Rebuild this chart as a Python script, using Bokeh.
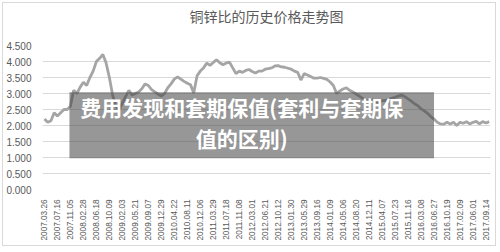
import math
from bokeh.plotting import figure
from bokeh.models import (FixedTicker, NumeralTickFormatter, BoxAnnotation, Label,
                          ColumnDataSource, Range1d)
from bokeh.embed import file_html
from bokeh.resources import INLINE

# ---- data ----
tick_labels = [
    "2007.03.26", "2007.07.16", "2007.11.05", "2008.02.28", "2008.06.18", "2008.10.09",
    "2009.02.03", "2009.05.21", "2009.09.07", "2009.12.29", "2010.04.22", "2010.08.11",
    "2010.12.06", "2011.03.29", "2011.07.18", "2011.11.08", "2012.03.01", "2012.06.21",
    "2012.10.12", "2013.01.30", "2013.05.29", "2013.09.16", "2014.01.09", "2014.05.06",
    "2014.08.20", "2014.12.11", "2015.04.07", "2015.07.23", "2015.11.16", "2016.03.08",
    "2016.06.27", "2016.10.19", "2017.02.09", "2017.06.01", "2017.09.14",
]
# ratio samples, four per labelled interval
ratio = [
    2.20, 2.10, 2.15, 2.40, 2.30, 2.40, 2.50, 2.50, 2.60, 3.10,
    3.00, 3.20, 3.35, 3.25, 3.50, 3.70, 4.00, 4.10, 4.22, 3.95,
    3.50, 2.95, 2.60, 2.50, 2.70, 2.90, 3.10, 2.95, 3.00, 3.05,
    3.15, 3.30, 3.25, 3.12, 3.05, 2.98, 2.92, 3.00, 3.18, 3.30,
    3.45, 3.52, 3.45, 3.38, 3.32, 3.27, 3.02, 3.55, 3.70, 3.80,
    3.95, 3.88, 3.97, 4.05, 3.96, 3.90, 3.95, 3.98, 3.80, 3.62,
    3.70, 3.66, 3.72, 3.75, 3.69, 3.64, 3.70, 3.70, 3.76, 3.78,
    3.80, 3.86, 3.87, 3.83, 3.82, 3.79, 3.76, 3.70, 3.66, 3.42,
    3.62, 3.58, 3.53, 3.48, 3.48, 3.50, 3.47, 3.44, 3.36, 3.25,
    3.00, 3.08, 3.14, 3.18, 3.10, 3.05, 2.98, 2.92, 2.85, 2.80,
    2.75, 2.80, 2.76, 2.72, 2.78, 2.78, 2.82, 2.85, 2.88, 2.92,
    2.95, 2.90, 2.83, 2.76, 2.68, 2.62, 2.52, 2.46, 2.38, 2.28,
    2.20, 2.10, 2.05, 2.04, 2.10, 2.05, 2.10, 2.00, 2.10, 2.07,
    2.12, 2.05, 2.10, 2.13, 2.05, 2.12, 2.08, 2.12,
]
y_ticks = [0.0, 0.5, 1.0, 1.5, 2.0, 2.5, 3.0, 3.5, 4.0, 4.5]
title_text = "铜锌比的历史价格走势图"
overlay_lines = ["费用发现和套期保值(套利与套期保", "值的区别)"]

SAMPLES_PER_LABEL = 4
idx = list(range(len(ratio)))
src = ColumnDataSource(dict(x=idx, y=ratio))
tick_pos = [i * SAMPLES_PER_LABEL for i in range(len(tick_labels))]

p = figure(width=494, height=244, output_backend="svg", toolbar_location=None,
           x_range=Range1d(-0.6, 137.4), y_range=Range1d(0, 4.5),
           min_border_left=37, min_border_right=7, min_border_top=42, min_border_bottom=58)
p.margin = (2, 2, 2, 2)
p.styles = {"border": "1px solid #d9d9d9"}
p.outline_line_color = None
p.background_fill_color = "white"
p.border_fill_color = "white"

p.title.text = title_text + "\n"
p.title.align = "center"
p.title.offset = -14
p.title.standoff = 0
p.title.text_font = "Noto Sans CJK SC"
p.title.text_font_size = "14px"
p.title.text_font_style = "normal"
p.title.text_color = "#595959"

p.line("x", "y", source=src, line_color="#a5a5a5", line_width=2.8)

# axes
p.xaxis.ticker = FixedTicker(ticks=tick_pos)
p.xaxis.major_label_overrides = {t: lab for t, lab in zip(tick_pos, tick_labels)}
p.xaxis.major_label_orientation = math.pi / 2
p.yaxis.ticker = FixedTicker(ticks=y_ticks)
p.yaxis.formatter = NumeralTickFormatter(format="0.000")
for ax in (p.xaxis[0], p.yaxis[0]):
    ax.axis_line_color = None
    ax.major_tick_line_color = None
    ax.minor_tick_line_color = None
    ax.major_label_text_color = "#595959"
    ax.major_label_text_font = "Liberation Sans"
p.xaxis.major_label_text_font_size = "8.2px"
p.xaxis.major_label_standoff = 4
p.yaxis.major_label_text_font_size = "10px"
p.yaxis.major_label_standoff = 5

p.xgrid.grid_line_color = None
p.ygrid.grid_line_color = "#d9d9d9"
p.ygrid.grid_line_width = 1
p.ygrid.ticker = FixedTicker(ticks=y_ticks)

# overlay banner
box = BoxAnnotation(left=7.7, right=120.0, top=3.04, bottom=0.98,
                    fill_color="#424242", fill_alpha=0.55, line_color=None, level="overlay")
p.add_layout(box)
for txt, yy in zip(overlay_lines, [2.57, 1.60]):
    p.add_layout(Label(x=60.8, y=yy, text=txt, text_align="center", text_baseline="middle",
                       text_color="white", text_font="Noto Sans CJK SC",
                       text_font_size="21px", text_font_style="bold", level="overlay"))

open("out.html", "w").write(file_html(p, INLINE))
